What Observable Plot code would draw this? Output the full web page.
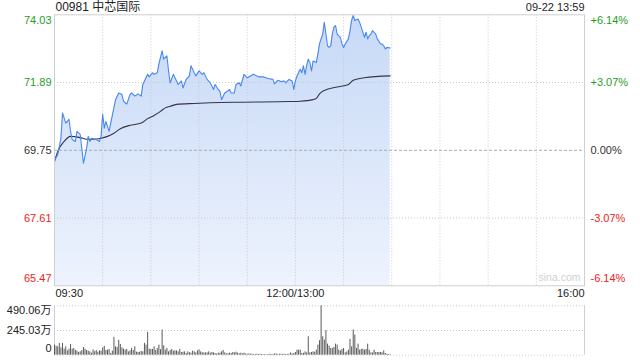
<!DOCTYPE html>
<html>
<head>
<meta charset="utf-8">
<script src="https://cdn.jsdelivr.net/npm/d3@7"></script>
<script src="https://cdn.jsdelivr.net/npm/@observablehq/plot@0.6"></script>
<style>
  html, body { margin: 0; padding: 0; background: #fff; }
  #wrap { position: relative; width: 640px; height: 360px; overflow: hidden; }
  #main, #vol { position: absolute; left: 0; }
  #main { top: 0; }
  #vol { top: 300px; }
</style>
</head>
<body>
<div id="wrap"><div id="main"></div><div id="vol"></div></div>
<script>
// ---------- data ----------
const stockTitle = "00981 中芯国际";
const stamp = "09-22 13:59";
const prevClose = 69.75;
const priceTicks = [74.03, 71.89, 69.75, 67.61, 65.47];
const pctTicks = ["+6.14%", "+3.07%", "0.00%", "-3.07%", "-6.14%"];
const timeTickLabels = ["09:30", "12:00/13:00", "16:00"];
const timeTickTimes = ["09:30", "12:00", "16:00"];
const volTicks = [490.06, 245.03, 0];
const volTickLabels = ["490.06万", "245.03万", "0"];

const priceTimes = ["09:30","09:32","09:34","09:35","09:37","09:38","09:39","09:40","09:41","09:43","09:44","09:46","09:47","09:48","09:50","09:51","09:52","09:53","09:56","09:58","09:59","10:00","10:01","10:02","10:04","10:05","10:07","10:08","10:10","10:12","10:13","10:15","10:17","10:18","10:20","10:22","10:24","10:25","10:28","10:29","10:31","10:32","10:34","10:35","10:37","10:38","10:40","10:41","10:42","10:44","10:46","10:47","10:49","10:50","10:52","10:54","10:55","10:57","10:58","11:00","11:02","11:03","11:05","11:07","11:09","11:10","11:12","11:13","11:14","11:16","11:18","11:19","11:20","11:22","11:23","11:25","11:26","11:28","11:30","11:32","11:34","11:37","11:40","11:43","11:46","11:47","11:49","11:51","11:53","11:54","11:56","11:58","11:59","13:00","13:01","13:03","13:04","13:05","13:06","13:07","13:08","13:09","13:10","13:11","13:13","13:14","13:15","13:17","13:18","13:19","13:20","13:21","13:22","13:23","13:24","13:25","13:26","13:28","13:29","13:30","13:31","13:33","13:34","13:35","13:36","13:37","13:39","13:40","13:41","13:43","13:44","13:45","13:46","13:47","13:48","13:50","13:51","13:53","13:54","13:55","13:56","13:57","13:59"];
const priceValues = [69.44,69.61,70.13,70.93,70.61,70.66,70.73,70.35,70.09,70.03,70.35,70.25,69.81,69.34,69.81,70.19,70.03,70.13,70.09,70.03,70.19,70.89,70.45,70.66,70.35,70.61,71.09,71.35,71.56,71.51,71.30,71.21,71.51,71.56,71.46,71.53,71.46,71.83,72.15,72.07,72.20,72.15,72.20,72.47,72.89,72.63,72.73,72.26,71.88,72.15,71.94,71.83,71.94,71.72,71.99,72.10,72.42,72.20,72.10,72.26,72.15,72.20,71.99,71.88,71.67,71.83,71.67,71.62,71.35,71.56,71.62,71.67,71.56,71.56,71.83,71.88,71.78,72.15,72.04,72.10,72.15,72.07,72.07,72.02,71.99,71.85,71.96,71.92,71.94,71.88,71.99,71.94,71.67,71.94,72.10,72.31,72.20,72.42,72.15,72.42,72.63,72.52,72.26,72.57,72.52,72.79,73.11,73.42,73.79,73.42,73.05,73.00,73.05,73.42,73.64,73.69,73.42,73.32,73.11,73.00,73.11,73.27,73.53,73.85,74.01,73.85,73.90,73.79,73.64,73.32,73.48,73.27,73.37,73.42,73.53,73.42,73.27,73.11,73.11,73.05,72.95,73.00,72.98];

const avgTimes = ["09:30","09:32","09:36","09:40","09:46","09:50","09:54","09:59","10:03","10:07","10:11","10:17","10:24","10:28","10:32","10:36","10:39","10:42","10:46","10:57","11:07","11:28","11:56","13:03","13:11","13:13","13:15","13:18","13:26","13:33","13:36","13:43","13:59"];
const avgValues = [69.39,69.71,70.03,70.19,70.15,70.10,70.10,70.13,70.19,70.29,70.43,70.54,70.61,70.75,70.85,70.98,71.09,71.14,71.20,71.23,71.25,71.27,71.29,71.30,71.35,71.39,71.53,71.64,71.75,71.83,71.96,72.04,72.10];

// per-minute volume (万), starting 09:30
const volStartTime = "09:30";
const volValues = [100,90,83,117,73,117,60,83,43,60,107,60,67,47,40,27,33,45,77,60,47,40,33,20,53,35,47,30,43,40,73,87,47,50,57,17,40,177,83,77,147,107,73,60,50,57,33,43,67,47,83,30,27,30,37,33,117,100,227,60,57,57,83,47,67,100,55,250,93,50,67,33,47,57,40,43,43,33,57,27,30,33,17,33,25,20,40,33,23,43,53,33,25,23,23,23,33,20,27,23,17,13,20,20,33,47,23,13,15,20,17,27,23,30,20,15,20,13,20,13,10,13,10,10,7,8,10,7,10,7,5,7,3,7,10,7,8,13,13,7,10,10,8,10,7,8,10,23,12,17,27,50,50,50,17,20,33,23,183,23,27,33,30,50,100,143,490,183,150,243,110,90,67,67,77,110,100,50,43,57,67,23,33,50,157,83,250,200,67,110,50,57,60,50,57,110,50,23,23,50,27,27,27,27,23,43,17,10,7,5];

// ---------- helpers ----------
function toMin(t) {
  const [h, m] = t.split(":").map(Number);
  const v = h * 60 + m;
  return v <= 720 ? v - 570 : v - 780 + 150;
}
const xDomain = [0, 330];
const priceData = priceTimes.map((t, i) => ({x: toMin(t), p: priceValues[i]}));
const avgData = avgTimes.map((t, i) => ({x: toMin(t), p: avgValues[i]}));
const v0 = toMin(volStartTime);
const volData = volValues.map((v, i) => ({x: v0 + i, v}));

const FONT = "'Liberation Sans', Arial, 'Noto Sans CJK SC', sans-serif";
const GREEN = "#1f9e1f", RED = "#ee2222", DARK = "#333";
const colorFor = v => v > prevClose + 1e-9 ? GREEN : (v < prevClose - 1e-9 ? RED : DARK);
const dyFor = i => i === 0 ? 6 : (i === priceTicks.length - 1 ? -7 : 0);

// ---------- main chart ----------
const gridV = d3.range(30, 330, 30);
const tickMarks = [];
priceTicks.forEach((v, i) => {
  tickMarks.push(Plot.text([v], {x: 0, y: d => d, text: d => d.toFixed(2), textAnchor: "end", dx: -3, dy: dyFor(i), fill: colorFor(v), fontSize: 11}));
  tickMarks.push(Plot.text([pctTicks[i]], {x: 330, y: v, text: d => d, textAnchor: "start", dx: 6, dy: dyFor(i), fill: colorFor(v), fontSize: 11}));
});
const anchors = ["start", "middle", "end"];
timeTickLabels.forEach((lab, i) => {
  tickMarks.push(Plot.text([lab], {x: toMin(timeTickTimes[i]) , y: priceTicks[4], text: d => d, textAnchor: anchors[i], dx: i === 0 ? 1 : (i === 2 ? 0 : 0), dy: 8, fill: "#222", fontSize: 11}));
});

const main = Plot.plot({
  width: 640, height: 300,
  marginTop: 14.3, marginBottom: 14.7, marginLeft: 54, marginRight: 56,
  x: {domain: xDomain, axis: null},
  y: {domain: [priceTicks[4], priceTicks[0]], axis: null},
  style: {fontFamily: FONT, fontSize: "11px", background: "white", overflow: "visible"},
  marks: [
    Plot.areaY(priceData, {x: "x", y1: priceTicks[4], y2: "p", fill: "url(#priceGrad)", curve: "linear"}),
    Plot.ruleX(gridV, {stroke: "#c8c8c8", strokeDasharray: "1,2"}),
    Plot.ruleY([priceTicks[1], priceTicks[3]], {stroke: "#c8c8c8", strokeDasharray: "1,2"}),
    Plot.ruleY([prevClose], {stroke: "#aaa", strokeDasharray: "3,2"}),
    Plot.line(avgData, {x: "x", y: "p", stroke: "#353545", strokeWidth: 1.1, curve: "monotone-x"}),
    Plot.line(priceData, {x: "x", y: "p", stroke: "#4a88ee", strokeWidth: 1.1}),
    Plot.frame({stroke: "#cfcfcf"}),
    Plot.text(["sina.com"], {x: 330, y: priceTicks[4], text: d => d, textAnchor: "end", dx: -4, dy: -8, fill: "#d0d0d0", fontSize: 10.5}),
    Plot.text([stockTitle], {x: 0, y: priceTicks[0], text: d => d, textAnchor: "start", dx: 1, dy: -7.5, fill: "#222", fontSize: 12}),
    Plot.text([stamp], {x: 330, y: priceTicks[0], text: d => d, textAnchor: "end", dx: 0, dy: -7, fill: "#222", fontSize: 11}),
    ...tickMarks
  ]
});
d3.select(main).insert("defs", ":first-child").html(
  '<linearGradient id="priceGrad" x1="0" y1="0" x2="0" y2="1">' +
  '<stop offset="0%" stop-color="#c6d9f7"/>' +
  '<stop offset="100%" stop-color="#eef3fd"/>' +
  '</linearGradient>');
document.getElementById("main").appendChild(main);

// ---------- volume chart ----------
const volMarks = [];
volTicks.forEach((v, i) => {
  volMarks.push(Plot.text([volTickLabels[i]], {x: 0, y: v, text: d => d, textAnchor: "end", dx: -3, dy: i === 0 ? 4.5 : (i === 2 ? -7 : 0), fill: "#222", fontSize: 11}));
});
const vol = Plot.plot({
  width: 640, height: 60,
  marginTop: 5.3, marginBottom: 5.3, marginLeft: 54, marginRight: 56,
  x: {domain: xDomain, axis: null},
  y: {domain: [0, volTicks[0]], axis: null},
  style: {fontFamily: FONT, fontSize: "11px", background: "white", overflow: "visible"},
  marks: [
    Plot.ruleY([volTicks[0], volTicks[1]], {stroke: "#c8c8c8", strokeDasharray: "1,2"}),
    Plot.ruleY([0], {stroke: "#ccc", strokeDasharray: "1,2"}),
    Plot.ruleX(xDomain, {stroke: "#cfcfcf"}),
    Plot.ruleX(volData, {x: "x", y1: 0, y2: "v", stroke: "#5a5a5a", strokeWidth: 1}),
    ...volMarks
  ]
});
document.getElementById("vol").appendChild(vol);
</script>
</body>
</html>
